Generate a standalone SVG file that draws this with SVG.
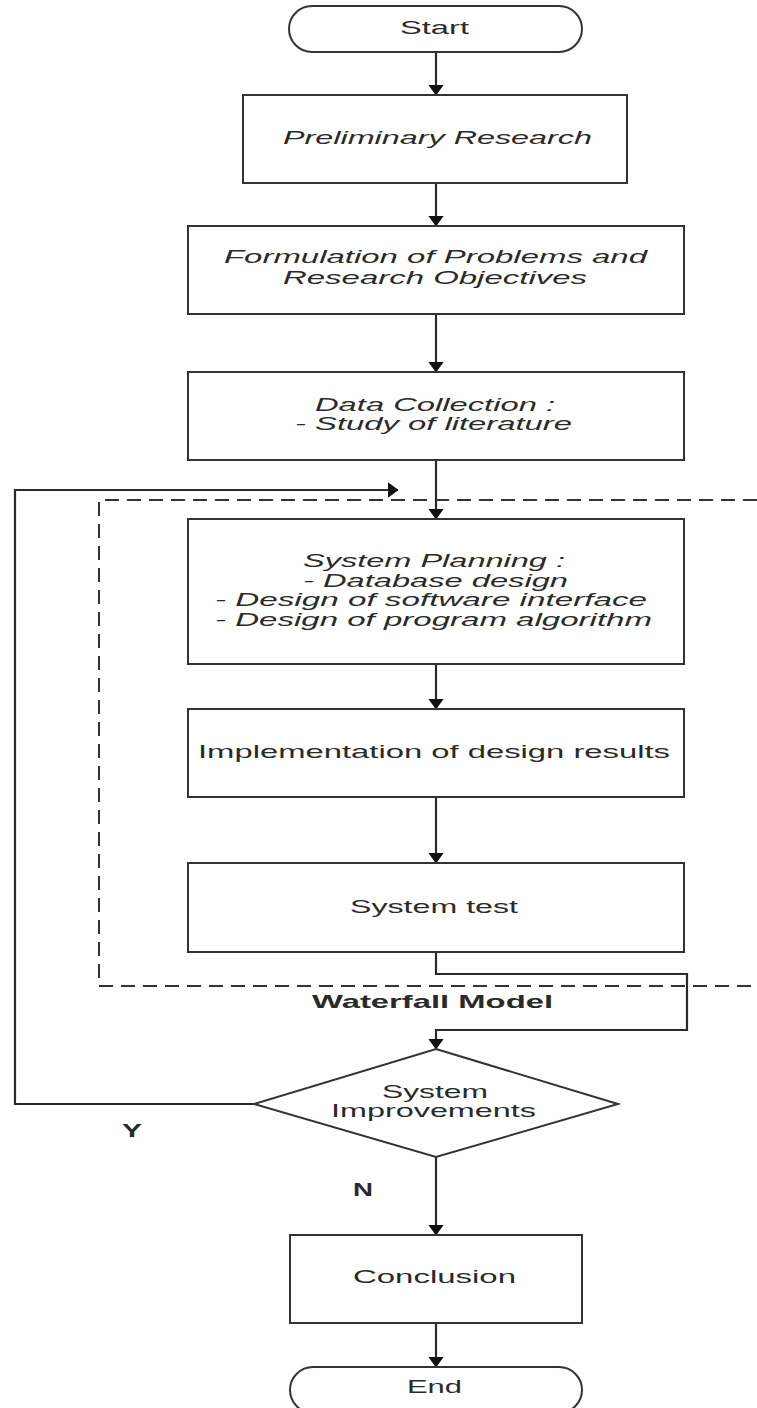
<svg xmlns="http://www.w3.org/2000/svg" width="757" height="1408" viewBox="0 0 757 1408">
<style>
  .box{fill:#fff;stroke:#333;stroke-width:2}
  .ln{fill:none;stroke:#2a2a2a;stroke-width:2.2}
  .dash{fill:none;stroke:#333;stroke-width:2;stroke-dasharray:14 8}
  text{font-family:"Liberation Sans",Arial,sans-serif;font-size:18.5px;fill:#2a2a2a;text-anchor:middle}
  .it{font-style:italic}
  .b{font-weight:bold}
</style>
<defs>
  <marker id="arr" markerWidth="11" markerHeight="16" refX="10.5" refY="8" orient="auto" markerUnits="userSpaceOnUse">
    <path d="M0,0 L11,8 L0,16 Z" fill="#111"/>
  </marker>
</defs>
<rect width="757" height="1408" fill="#fff"/>

<g id="waterfall-frame">
  <path class="dash" d="M757,500 H99 V986 H757"/>
  <text class="b" x="432.5" y="1008" textLength="241" lengthAdjust="spacingAndGlyphs">Waterfall Model</text>
</g>

<g id="connectors">
  <line class="ln" x1="436" y1="52" x2="436" y2="95" marker-end="url(#arr)"/>
  <line class="ln" x1="436" y1="183" x2="436" y2="226" marker-end="url(#arr)"/>
  <line class="ln" x1="436" y1="314" x2="436" y2="372" marker-end="url(#arr)"/>
  <line class="ln" x1="436" y1="460" x2="436" y2="519" marker-end="url(#arr)"/>
  <line class="ln" x1="436" y1="664" x2="436" y2="709" marker-end="url(#arr)"/>
  <line class="ln" x1="436" y1="797" x2="436" y2="863" marker-end="url(#arr)"/>
  <path class="ln" d="M436,952 V974 H687 V1030 H436 V1049" marker-end="url(#arr)"/>
  <line class="ln" x1="436" y1="1157" x2="436" y2="1235" marker-end="url(#arr)"/>
  <line class="ln" x1="436" y1="1323" x2="436" y2="1367" marker-end="url(#arr)"/>
  <path class="ln" d="M254,1104 H15 V490 H398" marker-end="url(#arr)"/>
  <text class="b" x="132" y="1137" textLength="20" lengthAdjust="spacingAndGlyphs">Y</text>
  <text class="b" x="363" y="1196" textLength="20" lengthAdjust="spacingAndGlyphs">N</text>
</g>

<g id="start">
  <rect class="box" x="289" y="6" width="293" height="46" rx="23" ry="23"/>
  <text x="434.5" y="34" textLength="69" lengthAdjust="spacingAndGlyphs">Start</text>
</g>

<g id="preliminary">
  <rect class="box" x="243" y="95" width="384" height="88"/>
  <text class="it" x="437.5" y="144" textLength="309" lengthAdjust="spacingAndGlyphs">Preliminary Research</text>
</g>

<g id="formulation">
  <rect class="box" x="188" y="226" width="496" height="88"/>
  <text class="it" x="435.5" y="263" textLength="423" lengthAdjust="spacingAndGlyphs">Formulation of Problems and</text>
  <text class="it" x="435" y="284" textLength="304" lengthAdjust="spacingAndGlyphs">Research Objectives</text>
</g>

<g id="data-collection">
  <rect class="box" x="188" y="372" width="496" height="88"/>
  <text class="it" x="435" y="411" textLength="240" lengthAdjust="spacingAndGlyphs">Data Collection :</text>
  <text class="it" x="433.5" y="430" textLength="277" lengthAdjust="spacingAndGlyphs">- Study of literature</text>
</g>

<g id="system-planning">
  <rect class="box" x="188" y="519" width="496" height="145"/>
  <text class="it" x="434" y="567" textLength="262" lengthAdjust="spacingAndGlyphs">System Planning :</text>
  <text class="it" x="435.5" y="587" textLength="265" lengthAdjust="spacingAndGlyphs">- Database design</text>
  <text class="it" x="431" y="606" textLength="432" lengthAdjust="spacingAndGlyphs">- Design of software interface</text>
  <text class="it" x="433.5" y="626" textLength="437" lengthAdjust="spacingAndGlyphs">- Design of program algorithm</text>
</g>

<g id="implementation">
  <rect class="box" x="188" y="709" width="496" height="88"/>
  <text x="434" y="758" textLength="472" lengthAdjust="spacingAndGlyphs">Implementation of design results</text>
</g>

<g id="system-test">
  <rect class="box" x="188" y="863" width="496" height="89"/>
  <text x="434" y="913" textLength="168" lengthAdjust="spacingAndGlyphs">System test</text>
</g>

<g id="system-improvements">
  <polygon class="box" points="436,1049 618,1104 436,1157 254,1104"/>
  <text x="435" y="1098" textLength="106" lengthAdjust="spacingAndGlyphs">System</text>
  <text x="433.5" y="1117" textLength="205" lengthAdjust="spacingAndGlyphs">Improvements</text>
</g>

<g id="conclusion">
  <rect class="box" x="290" y="1235" width="292" height="88"/>
  <text x="434.5" y="1283" textLength="163" lengthAdjust="spacingAndGlyphs">Conclusion</text>
</g>

<g id="end">
  <rect class="box" x="290" y="1367" width="292" height="46" rx="23" ry="23"/>
  <text x="434.5" y="1393" textLength="55" lengthAdjust="spacingAndGlyphs">End</text>
</g>
</svg>
